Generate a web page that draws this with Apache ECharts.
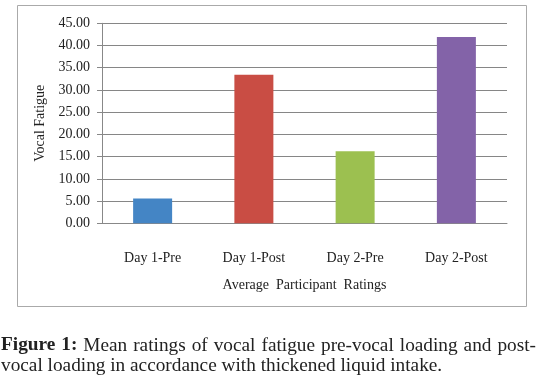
<!DOCTYPE html>
<html><head><meta charset="utf-8">
<script src="https://cdn.jsdelivr.net/npm/echarts@6/dist/echarts.min.js"></script>
<style>html,body{margin:0;padding:0;background:#fff}#c{width:540px;height:380px}</style>
</head><body><div id="c"></div>
<script>
const categories = ['Day 1-Pre', 'Day 1-Post', 'Day 2-Pre', 'Day 2-Post'];
const values = [5.6, 33.4, 16.2, 41.9];
const barColors = ['#4485C5', '#C94D44', '#9CC050', '#8363A8'];
const yTicks = { min: 0, max: 45, interval: 5 };
const captionLine1 = ['Figure', '1:', 'Mean', 'ratings', 'of', 'vocal', 'fatigue', 'pre-vocal', 'loading', 'and', 'post-'];
const captionLine2 = 'vocal loading in accordance with thickened liquid intake.';

const serif = 'Liberation Serif';
const capSize = 19.3;

// justify caption line 1 across the page width
const ctx = document.createElement('canvas').getContext('2d');
function w(txt, bold) { ctx.font = (bold ? 'bold ' : '') + capSize + 'px "' + serif + '"'; return ctx.measureText(txt).width; }
const x0 = 1, x1 = 536;
const widths = captionLine1.map((t, i) => w(t, i < 2));
const total = widths.reduce((a, b) => a + b, 0);
const gap = (x1 - x0 - total) / (captionLine1.length - 1);
const capGraphics = [];
let cx = x0;
captionLine1.forEach((t, i) => {
  capGraphics.push({ type: 'text', x: cx, y: 336,
    style: { text: t, fontFamily: serif, fontSize: capSize, fontWeight: i < 2 ? 'bold' : 'normal', fill: '#222' } });
  cx += widths[i] + gap;
});
capGraphics.push({ type: 'text', x: x0, y: 356,
  style: { text: captionLine2, fontFamily: serif, fontSize: capSize, fill: '#222' } });

const chart = echarts.init(document.getElementById('c'), null, {renderer: 'canvas'});
chart.setOption({
  animation: false,
  grid: { left: 102, right: 33, top: 23.3, bottom: 156.7 },
  xAxis: {
    type: 'category', data: categories,
    name: 'Average  Participant  Ratings', nameLocation: 'middle', nameGap: 55,
    nameTextStyle: { fontFamily: serif, fontSize: 14, color: '#222' },
    axisLine: { lineStyle: { color: '#888' } },
    axisTick: { length: 5, lineStyle: { color: '#888' } },
    axisLabel: { margin: 28, fontFamily: serif, fontSize: 14, color: '#222' }
  },
  yAxis: {
    type: 'value', min: yTicks.min, max: yTicks.max, interval: yTicks.interval,
    name: 'Vocal Fatigue', nameLocation: 'middle', nameGap: 50,
    nameTextStyle: { fontFamily: serif, fontSize: 14, color: '#222' },
    axisLine: { show: true, lineStyle: { color: '#888' } },
    axisTick: { show: true, length: 5, lineStyle: { color: '#888' } },
    axisLabel: { margin: 12, fontFamily: serif, fontSize: 14, color: '#222',
      formatter: v => v.toFixed(2) },
    splitLine: { lineStyle: { color: '#868686' } }
  },
  series: [{
    type: 'bar', barWidth: 39,
    data: values.map((v, i) => ({ value: v, itemStyle: { color: barColors[i] } }))
  }],
  graphic: [
    { type: 'rect', shape: { x: 17.5, y: 5.5, width: 509, height: 301 },
      style: { fill: 'none', stroke: '#aaa', lineWidth: 1 }, z: -1 }
  ].concat(capGraphics)
});
</script></body></html>
